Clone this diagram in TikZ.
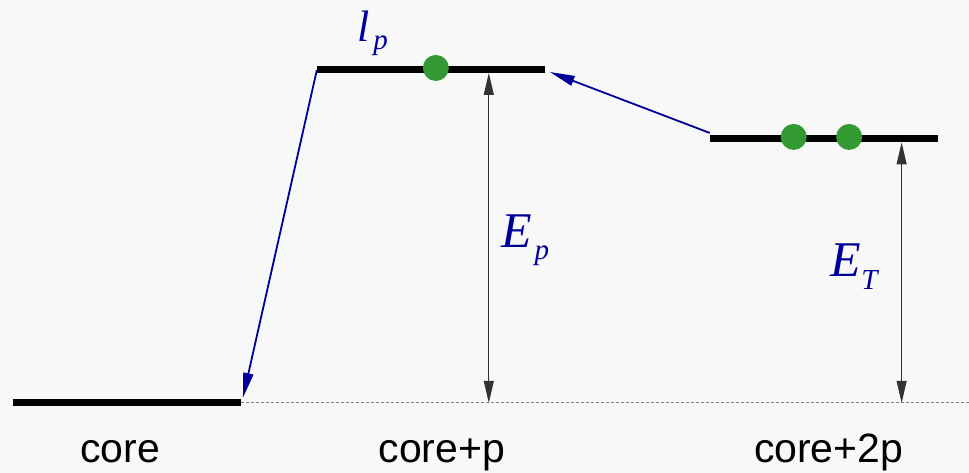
\documentclass[tikz,border=0pt]{standalone}
\usepackage{fontspec}
\setmainfont{Liberation Serif}
\setsansfont{Liberation Sans}
\usetikzlibrary{arrows.meta,positioning}
\definecolor{bgcol}{HTML}{F8F8F8}
\definecolor{dotgreen}{HTML}{339933}
\definecolor{navy}{HTML}{000099}
\newcommand{\lowsub}[2]{\raisebox{#1}{\fontsize{29}{29}\selectfont\itshape #2}}
\begin{document}
\begin{tikzpicture}[x=1pt, y=-1pt,
  level/.style={line width=7pt},
  occ/.style={circle, fill=dotgreen, inner sep=0pt, minimum size=26pt},
  trans/.style={navy, line width=1.8pt, -{Triangle[length=25pt,width=10pt]}},
  gap/.style={black!80, line width=1pt, {Triangle[length=22pt,width=10pt]}-{Triangle[length=22pt,width=10pt]}},
  sym/.style={navy, anchor=base west, inner sep=0pt, font=\fontsize{50}{50}\selectfont\itshape},
  conf/.style={anchor=base, inner sep=0pt, font=\fontsize{41}{48}\selectfont\sffamily}
]
\fill[bgcol] (0,0) rectangle (969,473);
% levels
\coordinate (coreL) at (13,403);
\coordinate (coreR) at (241,403);
\coordinate (oneL) at (317,69.5);
\coordinate (oneR) at (545,69.5);
\coordinate (twoL) at (710,139);
\coordinate (twoR) at (938,139);
\coordinate (base) at (969,403);
\draw[gray, line width=0.8pt, dash pattern=on 3pt off 2pt] (coreR) -- (base);
\draw[level] (coreL) -- (coreR);
\draw[level] (oneL) -- (oneR);
\draw[level] (twoL) -- (twoR);
% occupied states
\node[occ] (d1) at (436,68) {};
\node[occ] (d2) at (794,137) {};
\node[occ] (d3) at (849.5,137) {};
% transitions
\coordinate (oneTop) at (317,70);
\coordinate (coreEnd) at (243,398);
\coordinate (twoStart) at (710,133);
\coordinate (oneEnd) at (550,72);
\draw[trans] (oneTop) -- (coreEnd);
\draw[trans] (twoStart) -- (oneEnd);
% energies
\coordinate (epTop) at (489,73);
\coordinate (epBot) at (489,403);
\coordinate (etTop) at (902,142.5);
\coordinate (etBot) at (902,403);
\draw[gap] (epTop) -- (epBot);
\draw[gap] (etTop) -- (etBot);
% labels
\node[sym, font=\fontsize{44}{44}\selectfont\itshape] (lp) at (357,42) {l\kern4pt\lowsub{-8pt}{p}};
\node[sym] (Ep) at (502,248) {E\kern2pt\lowsub{-12pt}{p}};
\node[sym] (ET) at (831,277) {E\lowsub{-13pt}{T}};
\node[conf] (c0) at (120,463) {core};
\node[conf] (c1) at (442,463) {core+p};
\node[conf] (c2) at (829,463) {core+2p};
\end{tikzpicture}
\end{document}
